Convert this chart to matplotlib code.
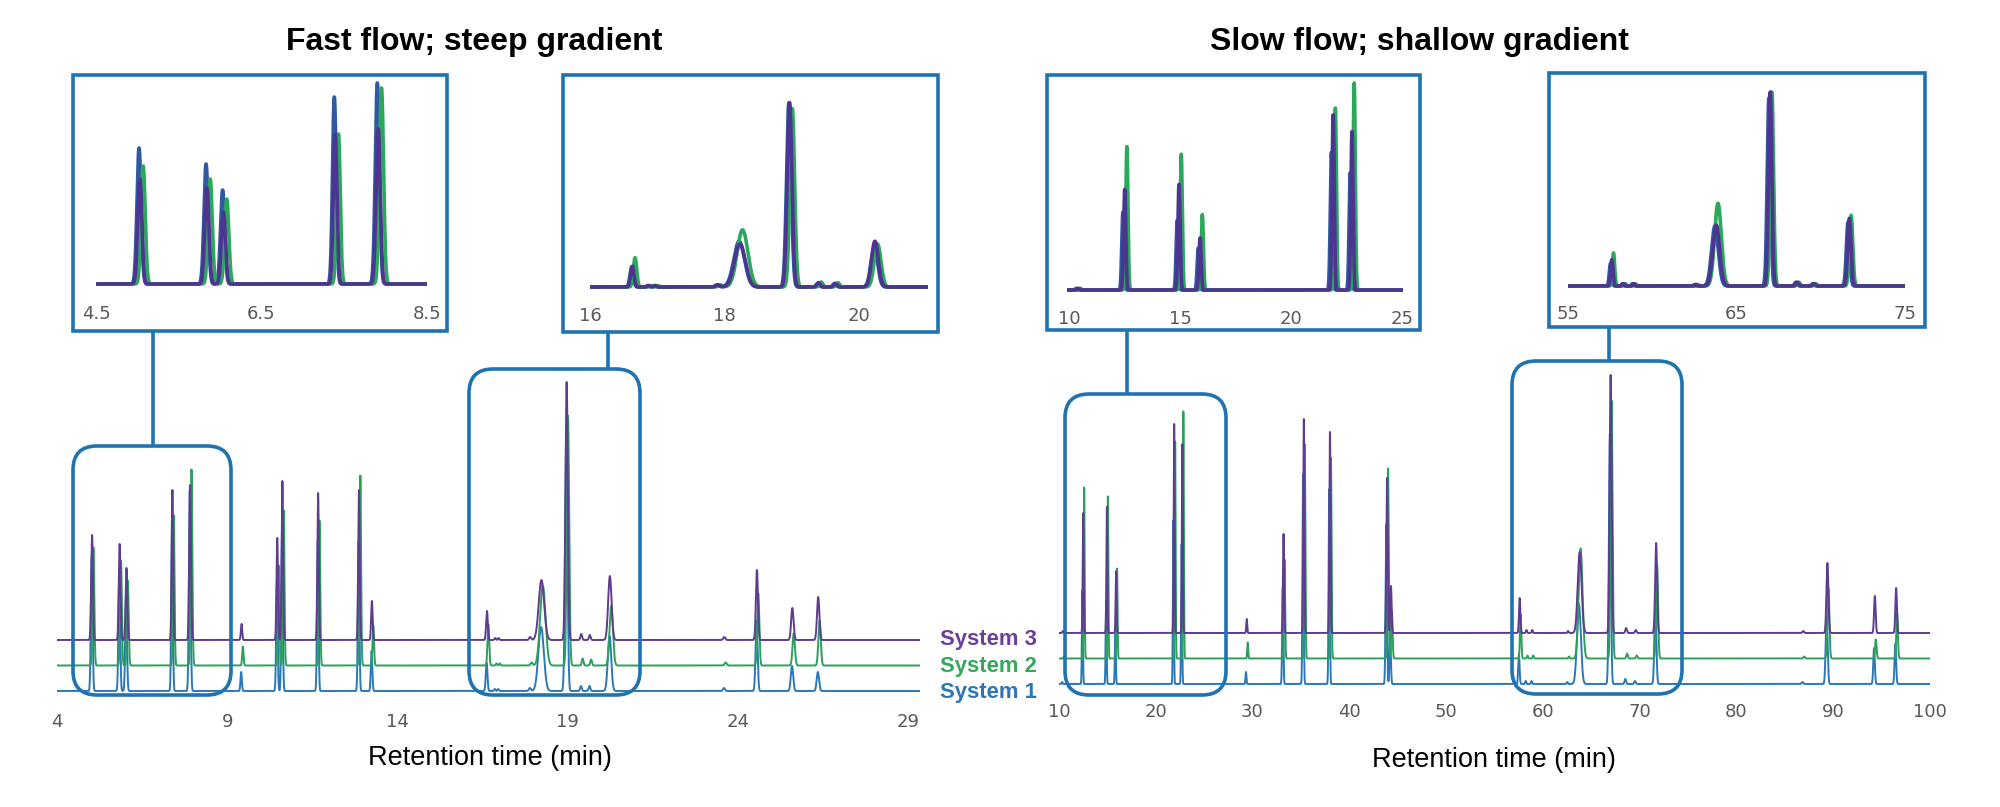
import numpy as np
import matplotlib.pyplot as plt
from matplotlib.patches import FancyBboxPatch, Rectangle

systems = ['System 1', 'System 2', 'System 3']

# fast flow; steep gradient - peak table
# (retention time in min, peak sigma in min, heights per system)
fast_rt = [5.03, 5.84, 6.04, 7.39, 7.91, 9.42, 10.47, 10.62, 11.67, 12.87, 13.25,
           16.63, 16.87, 16.97, 17.90, 18.23, 18.97, 19.40, 19.65, 20.24,
           23.60, 24.56, 25.60, 26.36]
fast_sig = [0.025, 0.025, 0.025, 0.022, 0.025, 0.02, 0.022, 0.022, 0.022, 0.022, 0.022,
            0.025, 0.02, 0.02, 0.03, 0.08, 0.035, 0.025, 0.025, 0.05,
            0.03, 0.03, 0.035, 0.035]
fast_s1 = [136, 120, 94, 187, 201, 19, 105, 160, 150, 150, 40,
           28, 2, 2, 3, 64, 258, 5, 5, 55, 3, 70, 25, 19]
fast_s2 = [118, 105, 85, 150, 196, 19, 100, 155, 145, 190, 40,
           41, 2, 2, 3, 80, 250, 7, 6, 60, 3, 72, 32, 45]
fast_s3 = [105, 96, 72, 150, 155, 16, 102, 159, 147, 150, 39,
           29, 2, 2, 3, 60, 258, 6, 5, 64, 3, 70, 32, 43]
fast_shift = [-0.01, 0.04, 0.0]

# slow flow; shallow gradient
slow_rt = [10.4, 12.5, 14.95, 15.9, 21.9, 22.75, 29.4, 33.2, 35.3, 38.0, 43.9, 44.3,
           57.6, 58.3, 58.9, 62.6, 63.8, 67.0, 68.6, 69.6, 71.7, 86.9, 89.4, 94.3, 96.5]
slow_sig = [0.05, 0.05, 0.05, 0.05, 0.05, 0.05, 0.05, 0.06, 0.06, 0.06, 0.07, 0.07,
            0.07, 0.06, 0.06, 0.06, 0.2, 0.1, 0.08, 0.08, 0.1, 0.08, 0.1, 0.08, 0.08]
slow_s1 = [2, 93, 83, 50, 164, 140, 12, 95, 210, 195, 160, 45,
           30, 3, 3, 2, 80, 250, 5, 3, 85, 2, 68, 36, 40]
slow_s2 = [2, 171, 162, 90, 217, 247, 16, 99, 214, 201, 190, 47,
           44, 3, 3, 2, 110, 258, 5, 3, 94, 2, 70, 19, 45]
slow_s3 = [2, 120, 126, 62, 209, 189, 14, 99, 214, 201, 155, 47,
           35, 3, 3, 2, 81, 258, 5, 3, 90, 2, 70, 37, 45]
slow_shift = [-0.08, 0.10, 0.0]

fast_ticks = [4, 9, 14, 19, 24, 29]
slow_ticks = [10, 20, 30, 40, 50, 60, 70, 80, 90, 100]
fast_zoom_ticks = [[4.5, 6.5, 8.5], [16, 18, 20]]
slow_zoom_ticks = [[10, 15, 20, 25], [55, 65, 75]]

main_c = ['#2b78b8', '#2ca05a', '#5e3c8f']
zoom_c = ['#2f5aa3', '#2ca85c', '#4b3590']
label_c = ['#2e75b6', '#35a85c', '#6b3f98']
box_c = '#1f73b1'
tick_c = '#595959'
offsets = [0, 25.5, 51]

W, H = 2000, 807
fig = plt.figure(figsize=(W / 100, H / 100), dpi=100)


def px_axes(x0, y0, x1, y1):
    ax = fig.add_axes([x0 / W, 1 - y1 / H, (x1 - x0) / W, (y1 - y0) / H])
    ax.patch.set_alpha(0)
    for s in ax.spines.values():
        s.set_visible(False)
    ax.set_yticks([])
    return ax


def trace(t, rt, sig, h, dt):
    y = np.zeros_like(t)
    for r, s, a in zip(rt, sig, h):
        y += a * np.exp(-0.5 * ((t - r - dt) / s) ** 2)
    return y


def ticks(ax, vals, label_y, bottom):
    ax.set_xticks(vals)
    ax.set_xticklabels([str(v) for v in vals])
    ax.tick_params(axis='x', length=0, labelsize=13, labelcolor=tick_c,
                   pad=(label_y - 7.1 - bottom) * 0.72)


t_fast = np.linspace(4, 29.35, 30000)
t_slow = np.linspace(9.9, 100, 45000)
fast_traces = [trace(t_fast, fast_rt, fast_sig, h, d)
               for h, d in zip([fast_s1, fast_s2, fast_s3], fast_shift)]
slow_traces = [trace(t_slow, slow_rt, slow_sig, h, d)
               for h, d in zip([slow_s1, slow_s2, slow_s3], slow_shift)]

# main chromatograms
ax1 = px_axes(57, 360, 920, 700)
for y, off, c in zip(fast_traces, offsets, main_c):
    ax1.plot(t_fast, y + off, color=c, lw=1.4)
ax1.set_xlim(4, 29.35)
ax1.set_ylim(-9, 331)
ticks(ax1, fast_ticks, 720, 700)

ax2 = px_axes(1059, 360, 1930, 693)
for y, off, c in zip(slow_traces, offsets, main_c):
    ax2.plot(t_slow, y + off, color=c, lw=1.4)
ax2.set_xlim(10, 100)
ax2.set_ylim(-9, 324)
ticks(ax2, slow_ticks, 710, 693)

# zoomed insets: (pixel box, xlim, baseline px, scale, ticks, label y)
insets = [
    ((96, 78, 427, 290), (4.5, 8.5), 284, 1.0, fast_zoom_ticks[0], 312, t_fast, fast_traces),
    ((590, 78, 928, 293), (16, 21.03), 287, 1.40, fast_zoom_ticks[1], 314, t_fast, fast_traces),
    ((1067, 78, 1403, 296), (9.9, 25.05), 290, 1.193, slow_zoom_ticks[0], 317, t_slow, slow_traces),
    ((1568, 78, 1905, 292), (55, 75), 286, 1.33, slow_zoom_ticks[1], 312, t_slow, slow_traces),
]
for (x0, y0, x1, y1), xl, base, sc, tv, ly, t, trs in insets:
    ax = px_axes(x0, y0, x1, y1)
    for y, c in zip(trs, zoom_c):
        ax.plot(t, y, color=c, lw=2.6)
    ax.set_xlim(*xl)
    ax.set_ylim(-(y1 - base) * sc, (base - y0) * sc)
    ticks(ax, tv, ly, y1)

# overlay in pixel coordinates for boxes, connectors and text
ov = fig.add_axes([0, 0, 1, 1])
ov.set_xlim(0, W)
ov.set_ylim(H, 0)
ov.axis('off')
ov.patch.set_alpha(0)
ov.set_zorder(10)

for x0, y0, x1, y1 in [(73, 75, 447, 331), (563, 75, 938, 332),
                       (1047, 75, 1420, 330), (1549, 73, 1925, 327)]:
    ov.add_patch(Rectangle((x0, y0), x1 - x0, y1 - y0, fill=False, ec=box_c, lw=2.6))

for x0, y0, x1, y1 in [(73, 446, 231, 695), (469, 369, 640, 695),
                       (1065, 394, 1226, 695), (1512, 361, 1682, 694)]:
    ov.add_patch(FancyBboxPatch((x0, y0), x1 - x0, y1 - y0,
                                boxstyle='round,pad=0,rounding_size=24',
                                fill=False, ec=box_c, lw=2.6))

for x, ya, yb in [(153, 331, 446), (608, 332, 369), (1127, 330, 394), (1609, 327, 361)]:
    ov.plot([x, x], [ya, yb], color=box_c, lw=2.6, solid_capstyle='butt')

ov.text(474, 50, 'Fast flow; steep gradient', ha='center', va='baseline',
        fontsize=23, fontweight='bold', family='Liberation Sans')
ov.text(1419, 50, 'Slow flow; shallow gradient', ha='center', va='baseline',
        fontsize=23, fontweight='bold', family='Liberation Sans')
ov.text(490, 765, 'Retention time (min)', ha='center', va='baseline',
        fontsize=19.5, family='Liberation Sans')
ov.text(1494, 767, 'Retention time (min)', ha='center', va='baseline',
        fontsize=19.5, family='Liberation Sans')

for name, c, yb in zip(systems, label_c, [698, 672, 645]):
    ov.text(940, yb, name, ha='left', va='baseline', fontsize=15.8,
            fontweight='bold', color=c, family='Liberation Sans')

fig.savefig('out.png', dpi=100, facecolor='white')
